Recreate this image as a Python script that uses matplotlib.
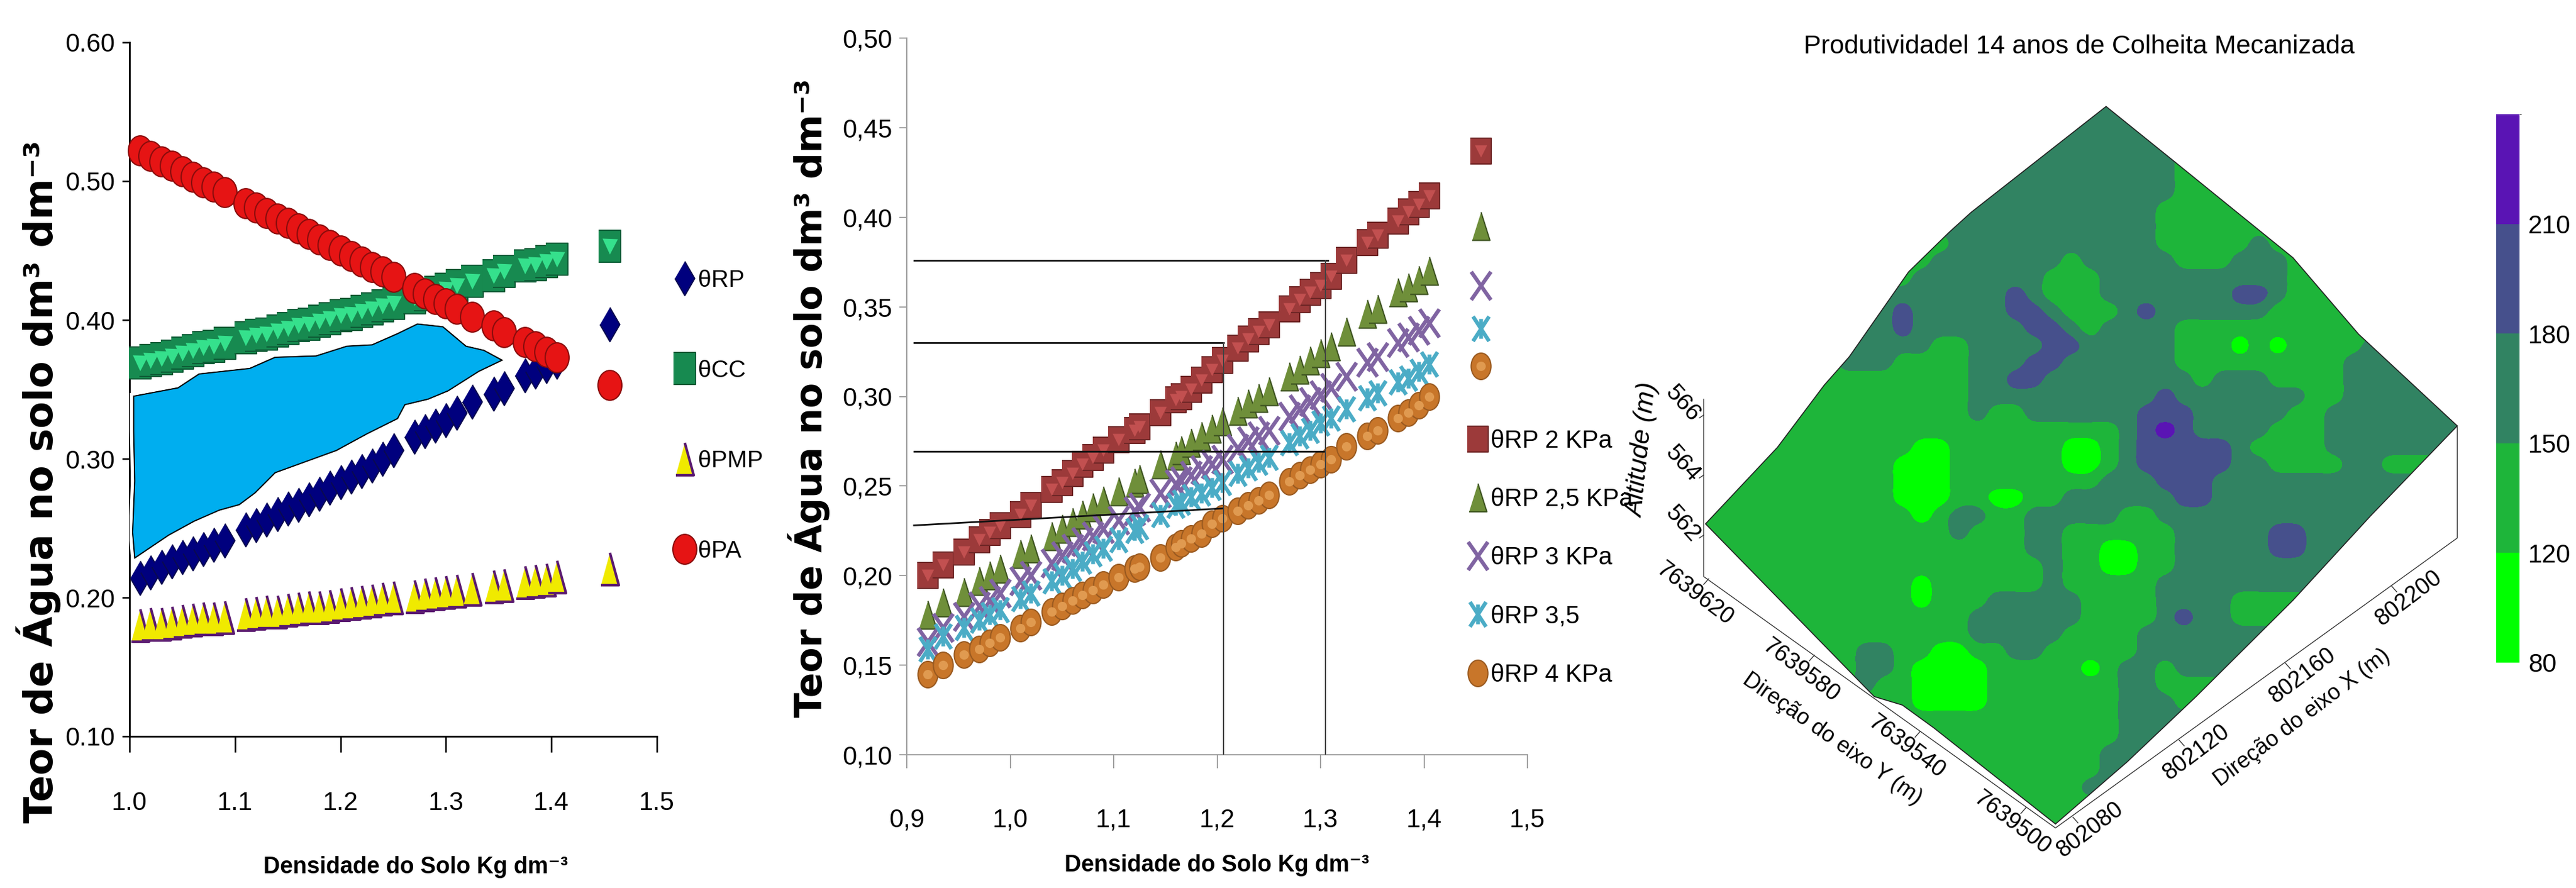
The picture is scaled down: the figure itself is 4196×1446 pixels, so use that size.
import numpy as np
import matplotlib
matplotlib.use("Agg")
import matplotlib.pyplot as plt
from matplotlib.colors import BoundaryNorm, ListedColormap
from matplotlib.cm import ScalarMappable
from matplotlib.patches import Polygon
from matplotlib.path import Path
import matplotlib.patheffects as pe

plt.rcParams['font.family'] = ['Liberation Sans', 'DejaVu Sans']
W, H = 4196, 1446

# left chart
dens_a = [1.01, 1.02, 1.03, 1.04, 1.05, 1.06, 1.07, 1.08, 1.09, 1.11, 1.12, 1.13, 1.14, 1.15, 1.16, 1.17, 1.18, 1.19,
          1.20, 1.21, 1.22, 1.23, 1.24, 1.25, 1.27, 1.28, 1.29, 1.30, 1.31, 1.325, 1.345, 1.355, 1.375, 1.385, 1.395,
          1.405, 1.455]
theta_pa = [.522, .518, .514, .511, .507, .503, .499, .496, .492, .484, .481, .477, .473, .470, .466, .462, .458, .454,
            .450, .446, .442, .438, .435, .431, .423, .419, .415, .412, .408, .402, .396, .391, .384, .381, .377,
            .373, .353]
theta_cc = [.369, .371, .372, .374, .376, .378, .380, .381, .383, .387, .389, .390, .392, .394, .396, .397, .399, .401,
            .403, .404, .406, .408, .410, .412, .416, .418, .420, .422, .425, .428, .432, .435, .439, .440, .442,
            .444, .453]
theta_rp = [.214, .218, .222, .226, .229, .232, .235, .238, .241, .249, .252, .256, .260, .264, .267, .271, .275, .279,
            .283, .287, .291, .295, .300, .306, .316, .320, .324, .328, .333, .341, .347, .351, .360, .363, .367,
            .370, .397]
theta_pmp = [.180, .181, .181, .182, .183, .184, .185, .185, .186, .188, .189, .190, .190, .191, .192, .193, .193, .194,
             .195, .196, .197, .198, .199, .200, .201, .202, .203, .204, .205, .206, .208, .209, .211, .212, .213,
             .215, .221]
area_top_x = [1.004, 1.046, 1.066, 1.114, 1.138, 1.177, 1.206, 1.230, 1.254, 1.273, 1.297, 1.319, 1.336, 1.353]
area_top_y = [.345, .351, .361, .365, .373, .374, .381, .382, .390, .397, .395, .381, .378, .371]
area_low_x = [1.331, 1.302, 1.283, 1.261, 1.254, 1.225, 1.196, 1.167, 1.138, 1.119, 1.104, 1.085, 1.061, 1.037, 1.005,
              1.003, 1.005, 1.004]
area_low_y = [.363, .349, .343, .339, .329, .318, .306, .298, .290, .2755, .267, .263, .255, .245, .2286,
              .247, .284, .320]
xticks_a = [1.0, 1.1, 1.2, 1.3, 1.4, 1.5]
yticks_a = [.10, .20, .30, .40, .50, .60]

# middle chart
dens_b = [.92, .935, .955, .97, .98, .99, 1.01, 1.02, 1.04, 1.05, 1.06, 1.07, 1.08, 1.09, 1.105, 1.12, 1.125, 1.145,
          1.16, 1.165, 1.175, 1.185, 1.195, 1.205, 1.22, 1.23, 1.24, 1.25, 1.27, 1.28, 1.29, 1.30, 1.31, 1.325, 1.345,
          1.355, 1.375, 1.385, 1.395, 1.405, 1.455]
rp_2 = [.200, .206, .213, .220, .224, .228, .234, .239, .248, .252, .257, .262, .266, .270, .276, .281, .283, .291,
        .298, .300, .304, .309, .315, .320, .327, .332, .336, .340, .349, .354, .358, .362, .367, .376, .386,
        .390, .398, .403, .407, .412, .437]
rp_25 = [.178, .185, .191, .197, .200, .204, .212, .215, .222, .226, .230, .234, .238, .242, .247, .252, .254, .262,
         .267, .270, .274, .278, .282, .286, .292, .296, .299, .303, .311, .315, .320, .324, .328, .336, .346,
         .349, .358, .361, .365, .370, .395]
rp_3 = [.163, .171, .177, .183, .186, .190, .197, .200, .207, .211, .215, .219, .222, .226, .231, .236, .238, .246,
        .251, .253, .256, .259, .262, .265, .271, .275, .278, .281, .289, .293, .297, .301, .305, .311, .319,
        .322, .330, .333, .337, .341, .362]
rp_35 = [.159, .166, .171, .175, .178, .181, .187, .190, .197, .200, .204, .208, .212, .215, .220, .225, .227, .234,
         .239, .241, .244, .246, .249, .252, .257, .260, .263, .266, .274, .278, .281, .285, .288, .293, .299,
         .302, .308, .310, .314, .318, .338]
rp_4 = [.145, .150, .156, .159, .1625, .1655, .1705, .174, .180, .183, .186, .189, .192, .195, .199, .204, .205, .210,
        .216, .218, .2205, .2235, .229, .232, .236, .239, .242, .245, .2526, .256, .259, .262, .265, .272, .278,
        .281, .288, .291, .295, .300, .317]
xticks_b = [.9, 1.0, 1.1, 1.2, 1.3, 1.4, 1.5]
yticks_b = [.10, .15, .20, .25, .30, .35, .40, .45, .50]
guide_h = [(.907, .376, 1.307, .376), (.907, .330, 1.206, .330), (.907, .2694, 1.304, .2694), (.907, .228, 1.206, .2375)]
guide_v = [(1.206, .10, .330), (1.305, .10, .376)]

# map: productivity bands read on a screen grid of the 3D block, each row is band, last column, band, last column...
levels = [80, 120, 150, 180, 210, 240]
band_colors = ['#00ff00', '#1eb53a', '#318362', '#46508c', '#5a14b4']
band_mid = {1: 105, 2: 135, 3: 165, 4: 195, 5: 225}
grid_x0, grid_y0, grid_step = 160, 190, 30
map_rows = [
    [3, 41], [3, 41], [3, 41], [3, 25, 2, 41], [3, 25, 2, 41], [3, 25, 2, 41], [3, 24, 2, 41], [3, 24, 2, 41],
    [2, 13, 3, 24, 2, 29, 3, 30, 2, 41],
    [2, 12, 3, 19, 2, 20, 3, 25, 2, 28, 3, 31, 2, 41],
    [2, 11, 3, 18, 2, 21, 3, 31, 2, 41],
    [3, 16, 4, 17, 3, 18, 2, 21, 3, 28, 4, 30, 3, 31, 2, 41],
    [3, 10, 4, 11, 3, 16, 4, 18, 3, 19, 2, 22, 3, 23, 4, 24, 3, 30, 2, 41],
    [3, 10, 4, 11, 3, 17, 4, 19, 3, 20, 2, 21, 3, 25, 2, 41],
    [3, 12, 2, 14, 3, 18, 4, 20, 3, 25, 2, 28, 1, 29, 2, 30, 1, 31, 2, 35, 3, 41],
    [2, 7, 3, 10, 2, 14, 3, 17, 4, 19, 3, 25, 2, 34, 3, 41],
    [2, 14, 3, 16, 4, 18, 3, 26, 2, 27, 3, 30, 2, 34, 3, 41],
    [2, 14, 3, 24, 4, 25, 3, 32, 2, 34, 3, 41],
    [2, 14, 3, 15, 2, 17, 3, 23, 4, 26, 3, 31, 2, 33, 3, 41],
    [2, 22, 3, 23, 4, 24, 5, 25, 4, 26, 3, 30, 2, 33, 3, 41],
    [2, 11, 1, 13, 2, 19, 1, 21, 2, 22, 3, 23, 4, 28, 3, 29, 2, 33, 3, 41],
    [2, 10, 1, 13, 2, 19, 1, 21, 2, 22, 3, 23, 4, 28, 3, 30, 2, 34, 3, 36, 2, 41],
    [2, 10, 1, 13, 2, 21, 3, 24, 4, 27, 3, 41],
    [2, 10, 1, 13, 2, 15, 1, 17, 2, 19, 3, 25, 4, 27, 3, 41],
    [2, 11, 1, 12, 2, 13, 3, 15, 2, 17, 3, 22, 2, 24, 3, 41],
    [2, 13, 3, 14, 2, 17, 3, 19, 2, 25, 3, 30, 4, 32, 3, 41],
    [2, 17, 3, 19, 2, 21, 1, 23, 2, 25, 3, 30, 4, 32, 3, 41],
    [2, 18, 3, 19, 2, 21, 1, 23, 2, 25, 3, 41],
    [2, 11, 1, 12, 2, 18, 3, 19, 2, 24, 3, 41],
    [2, 11, 1, 12, 2, 15, 3, 20, 2, 24, 3, 28, 2, 41],
    [2, 14, 3, 20, 2, 24, 3, 25, 4, 26, 3, 28, 2, 41],
    [2, 14, 3, 19, 2, 23, 3, 41],
    [2, 8, 3, 10, 2, 12, 1, 14, 2, 16, 3, 18, 2, 23, 3, 41],
    [2, 8, 3, 10, 2, 11, 1, 15, 2, 20, 1, 21, 2, 22, 3, 24, 2, 25, 3, 41],
    [2, 8, 3, 9, 2, 11, 1, 15, 2, 22, 3, 24, 2, 41],
    [2, 11, 1, 15, 2, 22, 3, 25, 2, 41],
    [2, 22, 3, 41], [2, 22, 3, 41], [2, 21, 3, 41], [2, 21, 3, 41], [2, 20, 3, 41], [2, 41], [2, 41],
]
surface_x = [175, 290, 365, 405, 500, 565, 600, 816, 925, 1115, 1220, 1378, 1240, 1115, 960, 850, 735, 540, 490, 445]
surface_y = [925, 790, 680, 630, 480, 410, 375, 188, 285, 455, 590, 752, 910, 1060, 1230, 1345, 1455, 1285, 1245, 1230]
east_ticks = [802080, 802120, 802160, 802200]
north_ticks = [7639620, 7639580, 7639540, 7639500]
alt_ticks = [566, 564, 562]


def add_axes_px(left, top, right, bottom):
    return fig.add_axes([left / W, 1 - bottom / H, (right - left) / W, (bottom - top) / H])


def expand(runs):
    out = []
    start = 0
    for band, last in zip(runs[::2], runs[1::2]):
        out += [band_mid[band]] * (last + 1 - start)
        start = last + 1
    return out


def series(ax, x, y, marker, size, color, edge, label, inner=None, inner_size=0, mew=1.5, z=3):
    ax.plot(x, y, ls='none', marker=marker, ms=size, mfc=color, mec=edge, mew=mew, label=label, zorder=z, clip_on=False)
    if inner:
        ax.plot(x, y, ls='none', marker=inner[0], ms=inner_size, mfc=inner[1], mec='none', zorder=z, clip_on=False)


def tall_box(r):
    return [(-r, -1), (r, -1), (r, 1), (-r, 1)]


def tall_tri(r):
    return [(-r, -1), (r, -1), (0, 1)]


def tall_dia(r):
    return [(0, 1), (r, 0), (0, -1), (-r, 0)]


def tall_oval(r):
    c = Path.unit_circle()
    return Path(c.vertices * [r, 1], c.codes)


tall_x = Path([(-.7, -1), (.7, 1), (-.7, 1), (.7, -1)], [Path.MOVETO, Path.LINETO, Path.MOVETO, Path.LINETO])
tall_star = Path([(-.65, -1), (.65, 1), (-.65, 1), (.65, -1), (0, -.8), (0, .8)], [Path.MOVETO, Path.LINETO] * 3)

fig = plt.figure(figsize=(W / 100, H / 100), dpi=100)

# ---- left chart
ax = add_axes_px(211, 69, 1070, 1199)
ax.set_xlim(1.0, 1.5)
ax.set_ylim(.10, .60)
series(ax, dens_a, theta_rp, tall_dia(.58), 40, '#00007e', '#0a0a50', '\u03b8RP')
series(ax, dens_a, theta_cc, tall_box(.68), 38, '#178a50', '#0d5c36', '\u03b8CC', inner=('v', '#35e08c'), inner_size=18)
series(ax, dens_a, theta_pmp, tall_tri(.55), 38, '#f0ea00', '#5a1a70', '\u03b8PMP', mew=3)
series(ax, dens_a, theta_pa, tall_oval(.8), 35, '#e61414', '#8a0c0c', '\u03b8PA', z=4)
area = Polygon(list(zip(area_top_x + area_low_x, area_top_y + area_low_y)), closed=True, fc='#00aeef', ec='black', lw=1.2, zorder=5)
area.set_path_effects([pe.Stroke(linewidth=9, foreground='white'), pe.Stroke(linewidth=1.6, foreground='black'), pe.Normal()])
ax.add_patch(area)
for s in ['top', 'right']:
    ax.spines[s].set_visible(False)
for s in ['left', 'bottom']:
    ax.spines[s].set_linewidth(2)
ax.set_xticks(xticks_a, ['%.1f' % v for v in xticks_a])
ax.set_yticks(yticks_a, ['%.2f' % v for v in yticks_a])
ax.tick_params(axis='x', length=19, width=1.8, labelsize=30, pad=45)
ax.tick_params(axis='y', length=9, width=1.8, labelsize=30, pad=8)
ax.legend(loc='upper left', bbox_to_anchor=(1096 / W, 1 - 439 / H), bbox_transform=fig.transFigure, frameon=False,
          fontsize=28, borderpad=0, borderaxespad=0, handlelength=1, handletextpad=.05, labelspacing=2.85)
fig.text(62 / W, 1 - 784 / H, 'Teor de \u00c1gua no solo dm\u00b3 dm\u207b\u00b3', rotation=90, ha='center', va='center',
         fontsize=46, fontweight='bold', family=['DejaVu Sans'])
fig.text(677 / W, 1 - 1412 / H, 'Densidade do Solo Kg dm\u207b\u00b3', ha='center', va='center', fontsize=27, fontweight='bold')

# ---- middle chart
ax2 = add_axes_px(1477, 62, 2488, 1229)
ax2.set_xlim(.9, 1.5)
ax2.set_ylim(.10, .50)
series(ax2, dens_b, rp_2, tall_box(.8), 30, '#9c3a3a', '#6e2626', '\u03b8RP 2 KPa', inner=('v', '#c25050'), inner_size=14)
series(ax2, dens_b, rp_25, tall_tri(.63), 33, '#6f8f3a', '#3c5220', '\u03b8RP 2,5 KPa')
series(ax2, dens_b, rp_3, tall_x, 33, 'none', '#8064a2', '\u03b8RP 3 KPa', mew=4.5)
series(ax2, dens_b, rp_35, tall_star, 29, 'none', '#4bacc6', '\u03b8RP 3,5', mew=4.5)
series(ax2, dens_b, rp_4, tall_oval(.75), 31, '#c8762a', '#9a5a20', '\u03b8RP 4 KPa', inner=('o', '#e09a50'), inner_size=11)
for x0, y0, x1, y1 in guide_h:
    ax2.plot([x0, x1], [y0, y1], color='#111111', lw=2, zorder=6)
for xv, y0, y1 in guide_v:
    ax2.plot([xv, xv], [y0, y1], color='#444444', lw=1.4, zorder=6)
for s in ['top', 'right']:
    ax2.spines[s].set_visible(False)
for s in ['left', 'bottom']:
    ax2.spines[s].set_linewidth(1.5)
    ax2.spines[s].set_color('#a0a0a0')
ax2.set_xticks(xticks_b, [('%.1f' % v).replace('.', ',') for v in xticks_b])
ax2.set_yticks(yticks_b, [('%.2f' % v).replace('.', ',') for v in yticks_b])
ax2.tick_params(axis='x', length=16, width=1.4, color='#a0a0a0', labelsize=30, pad=46)
ax2.tick_params(axis='y', length=9, width=1.4, color='#a0a0a0', labelsize=30, pad=8)
ax2.legend(loc='upper left', bbox_to_anchor=(2389 / W, 1 - 699 / H), bbox_transform=fig.transFigure, frameon=False,
           fontsize=29, borderpad=0, borderaxespad=0, handlelength=.9, handletextpad=.06, labelspacing=1.42)
fig.text(1318 / W, 1 - 648 / H, 'Teor de \u00c1gua no solo dm\u00b3 dm\u207b\u00b3', rotation=90, ha='center', va='center',
         fontsize=43, fontweight='bold', family=['DejaVu Sans'])
fig.text(1982 / W, 1 - 1409 / H, 'Densidade do Solo Kg dm\u207b\u00b3', ha='center', va='center', fontsize=27, fontweight='bold')

# ---- map, axes in screen units of the projected block
am = add_axes_px(2600, 0, 4196, 1446)
am.axis('off')
cmap = ListedColormap(band_colors)
norm = BoundaryNorm(levels, cmap.N)
Z = np.array([expand(r) for r in map_rows], dtype=float)
gx = grid_x0 + grid_step * (Z.shape[1] - .5)
gy = grid_y0 + grid_step * (Z.shape[0] - .5)
im = am.imshow(Z, extent=(grid_x0 - grid_step / 2, gx, gy, grid_y0 - grid_step / 2), cmap=cmap, norm=norm,
               interpolation='mitchell', interpolation_stage='data', aspect='auto', zorder=2)
am.set_xlim(0, 1568)
am.set_ylim(1568, 0)
outline = list(zip(surface_x, surface_y))
im.set_clip_path(Polygon(outline, closed=True, transform=am.transData))
am.add_patch(Polygon(outline, closed=True, fc='none', ec='#222222', lw=1.2, zorder=3))

# block frame
am.plot([172, 172, 735, 1378, 1378], [705, 1018, 1462, 950, 752], color='#333333', lw=1, zorder=1)
for v in alt_ticks:
    yy = 950 - (v - 562) * 53
    am.plot([165, 172], [yy, yy - 5], color='#333333', lw=1)
    am.text(138, yy - 25, str(v), rotation=-48, ha='center', va='center', fontsize=28)
am.text(74, 795, 'Altitude (m)', rotation=84, ha='center', va='center', fontsize=31, style='italic')
for e in east_ticks:
    sx = 763 + (e - 802080) * 4.25
    sy = 1443 - (e - 802080) * 3.4
    am.plot([sx, sx + 8], [sy, sy + 10], color='#333333', lw=1)
    am.text(sx + 27, sy + 22, str(e), rotation=37, ha='center', va='center', fontsize=27)
for n in north_ticks:
    sx = 180 + (7639620 - n) * 4.23
    sy = 1022 + (7639620 - n) * 3.37
    am.plot([sx, sx - 8], [sy, sy + 10], color='#333333', lw=1)
    am.text(sx - 22, sy + 27, str(n), rotation=-37, ha='center', va='center', fontsize=27)
am.text(378, 1305, 'Dire\u00e7\u00e3o do eixo Y (m)', rotation=-35, ha='center', va='center', fontsize=26)
am.text(1130, 1268, 'Dire\u00e7\u00e3o do eixo X (m)', rotation=37, ha='center', va='center', fontsize=26)
am.text(773, 82, 'Produtividadel 14 anos de Colheita Mecanizada', ha='center', va='center', fontsize=30.5)

# colour bar
cax = add_axes_px(4066, 186, 4104, 1079)
cb = fig.colorbar(ScalarMappable(norm=norm, cmap=cmap), cax=cax, ticks=levels[:-1], spacing='uniform')
cb.outline.set_visible(False)
cb.ax.tick_params(length=0, labelsize=30, pad=10)

fig.savefig('out.png', dpi=100)
